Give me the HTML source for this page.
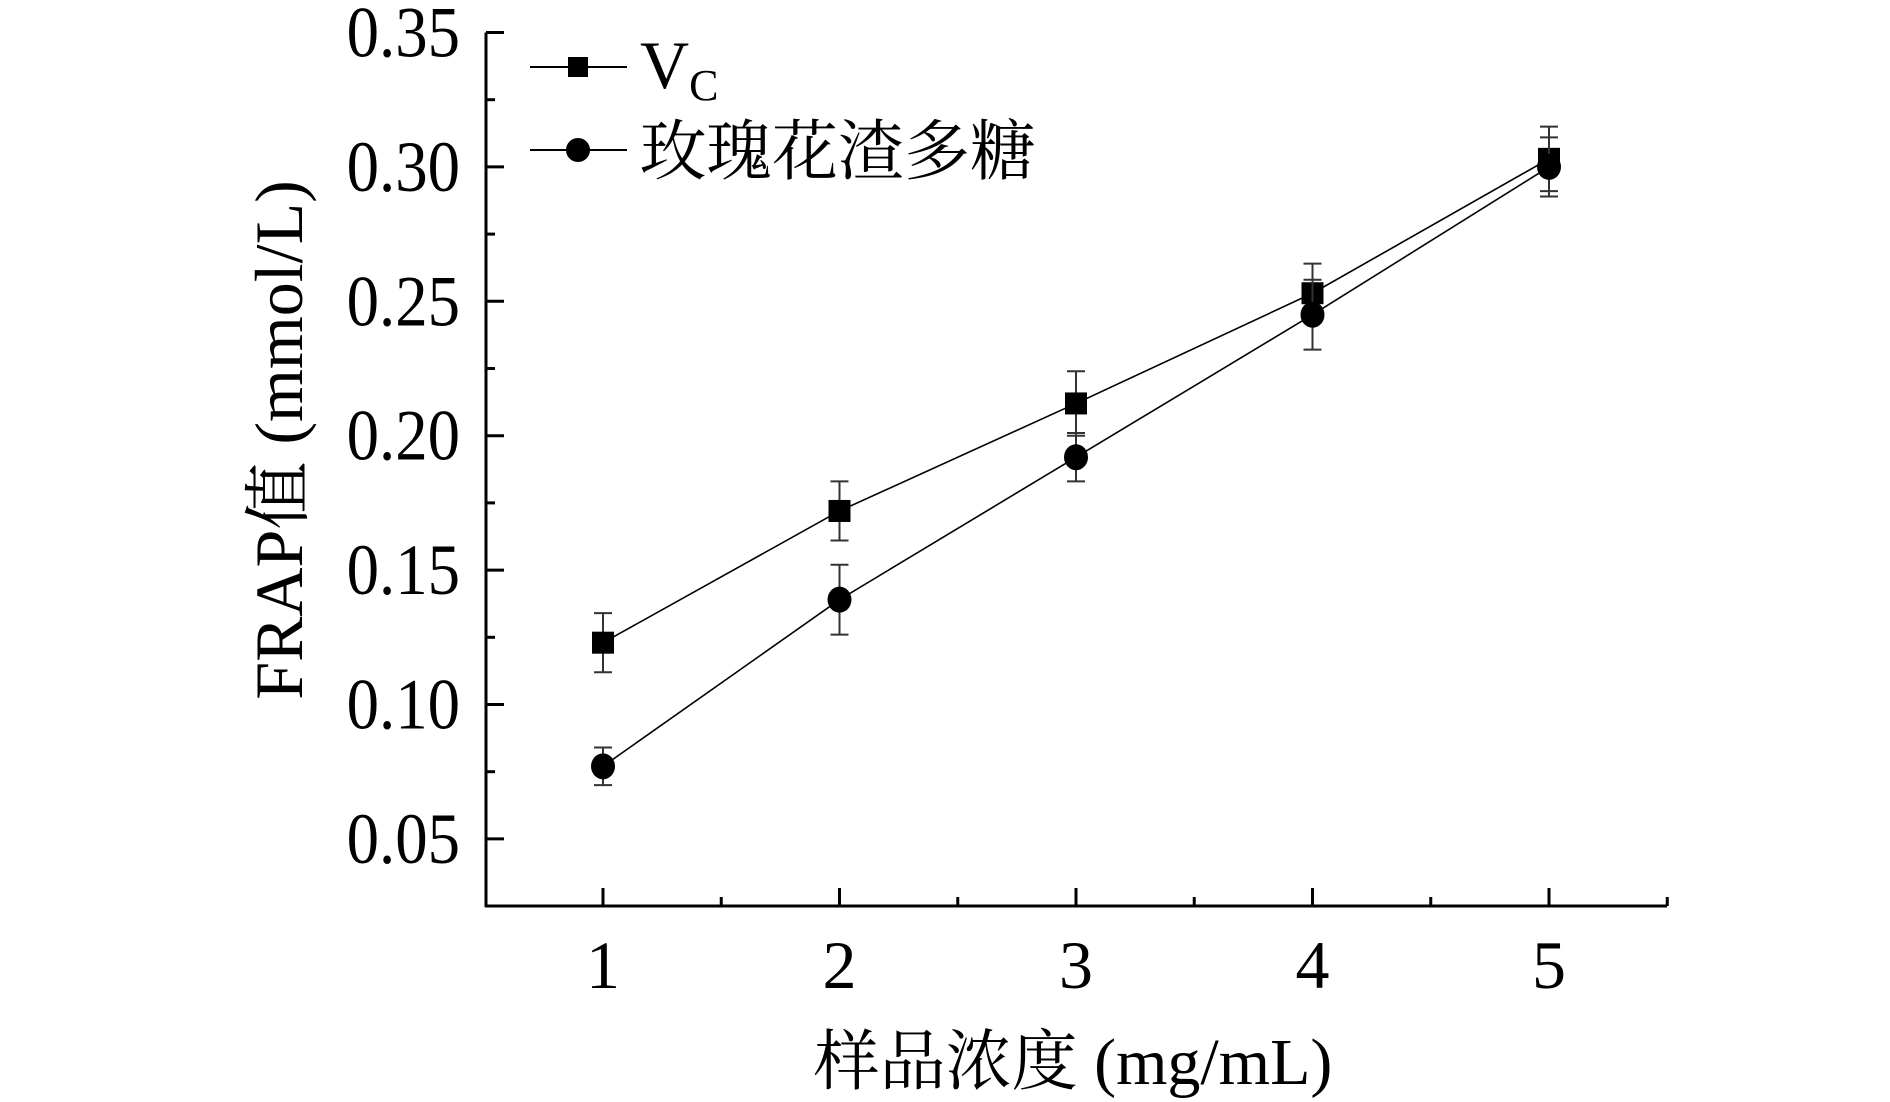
<!DOCTYPE html>
<html><head><meta charset="utf-8"><style>
html,body{margin:0;padding:0;background:#fff;}
svg{display:block;}
text{font-family:"Liberation Serif","Noto Serif CJK SC",serif;fill:#000;}
</style></head><body>
<svg id="chart" width="1890" height="1102" viewBox="0 0 1890 1102" xmlns="http://www.w3.org/2000/svg">
<g id="axes"></g>
<g id="series"></g>
<g id="legend">
  <line x1="530" y1="67" x2="627" y2="67" stroke="#000" stroke-width="2"/>
  <rect x="568" y="57" width="20" height="20" fill="#000"/>
  <text x="640" y="88" font-size="68">V<tspan font-size="44" dy="12">C</tspan></text>
  <line x1="530" y1="150" x2="627" y2="150" stroke="#000" stroke-width="2"/>
  <circle cx="578" cy="150" r="12" fill="#000"/>
  <text x="640" y="174" font-size="66">玫瑰花渣多糖</text>
</g>
<text x="1073" y="1084" font-size="66" text-anchor="middle">样品浓度 (mg/mL)</text>
<text transform="translate(302,440) rotate(-90)" font-size="68" text-anchor="middle">FRAP值 (mmol/L)</text>
</svg>
<script>
const categories=[1,2,3,4,5];
const vcValues=[0.123,0.172,0.212,0.253,0.303];
const vcErrors=[0.011,0.011,0.012,0.011,0.012];
const polyValues=[0.077,0.139,0.192,0.245,0.300];
const polyErrors=[0.007,0.013,0.009,0.013,0.011];
const yTicks=[0.05,0.10,0.15,0.20,0.25,0.30,0.35];
const yTickLabels=["0.05","0.10","0.15","0.20","0.25","0.30","0.35"];
const xTickLabels=["1","2","3","4","5"];

const NS="http://www.w3.org/2000/svg";
const xAxisY=906, yAxisX=486, xRight=1667;
function xs(v){return 603+(v-1)*236.5;}
function ys(v){return 32.5+(0.35-v)/0.05*134.4;}
function mk(tag,attrs,parent){const e=document.createElementNS(NS,tag);for(const k in attrs)e.setAttribute(k,attrs[k]);parent.appendChild(e);return e;}
const axes=document.getElementById('axes');
const series=document.getElementById('series');
let a=mk('line',{x1:yAxisX,y1:ys(0.35),x2:yAxisX,y2:xAxisY+1,stroke:'#000','stroke-width':3},axes);


a=mk('line',{x1:yAxisX-1,y1:xAxisY,x2:xRight,y2:xAxisY,stroke:'#000','stroke-width':3},axes);


yTicks.forEach((t,i)=>{
  const y=ys(t);
  let l=mk('line',{x1:yAxisX,y1:y,x2:yAxisX+18,y2:y,stroke:'#000','stroke-width':3},axes);
  
  
  if(i<yTicks.length-1){
    let m=mk('line',{x1:yAxisX,y1:y-67.2,x2:yAxisX+9,y2:y-67.2,stroke:'#000','stroke-width':3},axes);
    
    
  }
  let tx=mk('text',{x:0,y:0,'font-size':72,'text-anchor':'end',transform:'translate(460,'+(y+24)+') scale(0.9,1)'},axes);
  tx.textContent=yTickLabels[i];
  
  
});
categories.forEach((c,i)=>{
  const x=xs(c);
  let l=mk('line',{x1:x,y1:xAxisY,x2:x,y2:xAxisY-18,stroke:'#000','stroke-width':3},axes);
  
  
  let m=mk('line',{x1:x+118.25,y1:xAxisY,x2:x+118.25,y2:xAxisY-9,stroke:'#000','stroke-width':3},axes);
  
  
  let tx=mk('text',{x:x,y:988,'font-size':68,'text-anchor':'middle'},axes);
  tx.textContent=xTickLabels[i];
  
  
});
function drawSeries(vals,errs,shape,name){
  const pts=categories.map((c,i)=>xs(c)+','+ys(vals[i])).join(' ');
  let pl=mk('polyline',{points:pts,fill:'none',stroke:'#000','stroke-width':1.6},series);
  
  
  categories.forEach((c,i)=>{
    const x=xs(c),y=ys(vals[i]),t=ys(vals[i]+errs[i]),b=ys(vals[i]-errs[i]);
    const g=mk('g',{},series);
    
    
    mk('line',{x1:x,y1:t,x2:x,y2:b,stroke:'#333','stroke-width':2},g);
    mk('line',{x1:x-9,y1:t,x2:x+9,y2:t,stroke:'#333','stroke-width':2},g);
    mk('line',{x1:x-9,y1:b,x2:x+9,y2:b,stroke:'#333','stroke-width':2},g);
    let p;
    if(shape==='square') p=mk('rect',{x:x-11,y:y-11,width:22,height:22,fill:'#000'},series);
    else p=mk('ellipse',{cx:x,cy:y,rx:12,ry:13,fill:'#000'},series);
    
    
  });
}
drawSeries(vcValues,vcErrors,'square','vc');
drawSeries(polyValues,polyErrors,'circle','polysaccharide');
</script>
</body></html>
